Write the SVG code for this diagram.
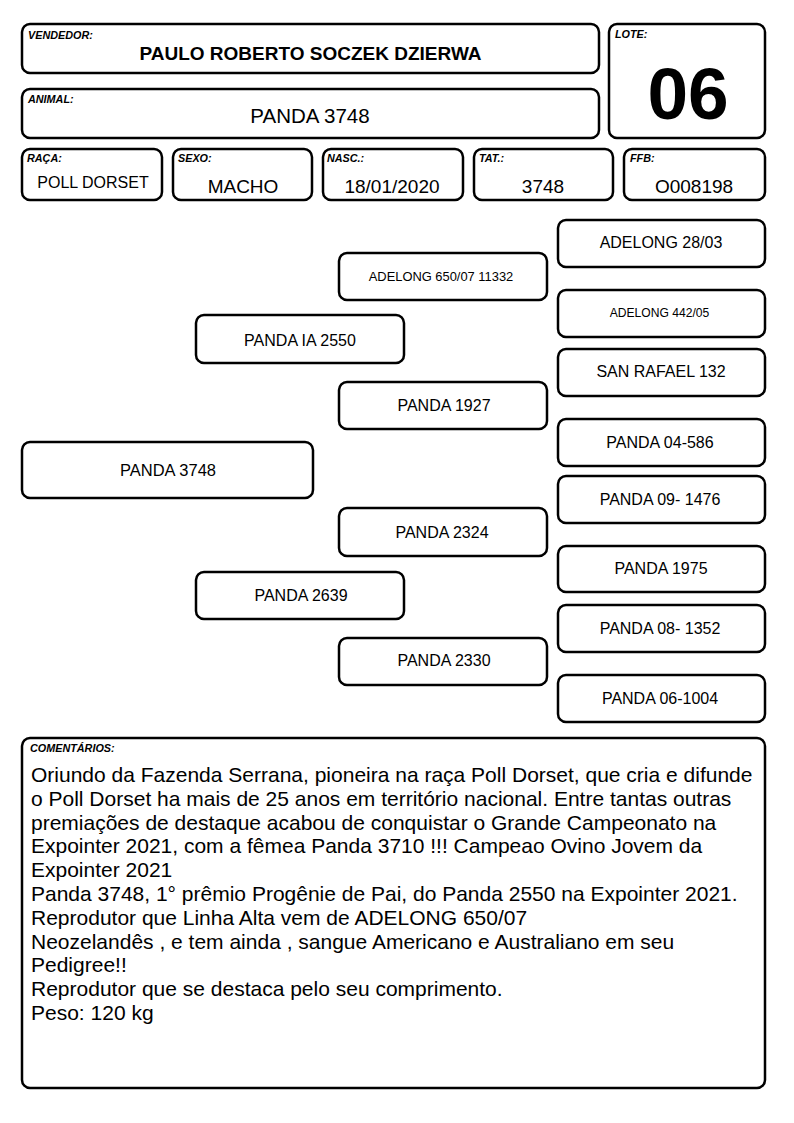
<svg xmlns="http://www.w3.org/2000/svg" width="794" height="1123" viewBox="0 0 794 1123">
<style>
rect.b{fill:#fff;stroke:#000;stroke-width:2.5}
text{font-family:"Liberation Sans",Arial,sans-serif;fill:#000}
.lbl{font-size:10.8px;font-weight:bold;font-style:italic}
.val{font-size:19px;text-anchor:middle}
.ped{font-size:16px;text-anchor:middle}
.com{font-size:21px}
</style>
<rect width="794" height="1123" fill="#fff"/>
<g id="vendedor">
<rect class="b" x="22" y="24" width="577" height="49" rx="8"/>
<text class="lbl" x="28" y="39">VENDEDOR:</text>
<text x="310.5" y="60" style="font-size:19px;font-weight:bold" text-anchor="middle">PAULO ROBERTO SOCZEK DZIERWA</text>
</g>
<g id="animal">
<rect class="b" x="22" y="89" width="577" height="49" rx="8"/>
<text class="lbl" x="28" y="103">ANIMAL:</text>
<text x="310" y="123" style="font-size:20.5px" text-anchor="middle">PANDA 3748</text>
</g>
<g id="lote">
<rect class="b" x="609" y="24" width="156" height="114" rx="8"/>
<text class="lbl" x="615" y="38">LOTE:</text>
<text x="688" y="119" style="font-size:73px;font-weight:bold" text-anchor="middle">06</text>
</g>
<g id="raca">
<rect class="b" x="22" y="149" width="140" height="51" rx="8"/>
<text class="lbl" x="27" y="162">RAÇA:</text>
<text class="val" x="93" y="188" style="font-size:16px">POLL DORSET</text>
</g>
<g id="sexo">
<rect class="b" x="173" y="149" width="139" height="51" rx="8"/>
<text class="lbl" x="178" y="162">SEXO:</text>
<text class="val" x="243" y="193">MACHO</text>
</g>
<g id="nasc">
<rect class="b" x="323" y="149" width="140" height="51" rx="8"/>
<text class="lbl" x="327" y="162">NASC.:</text>
<text class="val" x="392" y="193">18/01/2020</text>
</g>
<g id="tat">
<rect class="b" x="474" y="149" width="139" height="51" rx="8"/>
<text class="lbl" x="479" y="162">TAT.:</text>
<text class="val" x="543" y="193">3748</text>
</g>
<g id="ffb">
<rect class="b" x="624" y="149" width="141" height="51" rx="8"/>
<text class="lbl" x="630" y="162">FFB:</text>
<text class="val" x="694" y="193">O008198</text>
</g>
<g id="connectors"></g>
<g id="p0">
<rect class="b" x="22" y="442" width="291" height="56" rx="8"/>
<text class="ped" x="168" y="475.5" style="font-size:16.5px">PANDA 3748</text>
</g>
<g id="p1a">
<rect class="b" x="196" y="315" width="208" height="48" rx="8"/>
<text class="ped" x="300" y="345.5">PANDA IA 2550</text>
</g>
<g id="p1b">
<rect class="b" x="196" y="572" width="208" height="47" rx="8"/>
<text class="ped" x="301" y="600.5">PANDA 2639</text>
</g>
<g id="p2a">
<rect class="b" x="339" y="253" width="208" height="47" rx="8"/>
<text class="ped" x="441" y="280.5" style="font-size:12.9px">ADELONG 650/07 11332</text>
</g>
<g id="p2b">
<rect class="b" x="339" y="382" width="208" height="47" rx="8"/>
<text class="ped" x="444" y="411">PANDA 1927</text>
</g>
<g id="p2c">
<rect class="b" x="339" y="508" width="208" height="48" rx="8"/>
<text class="ped" x="442" y="538">PANDA 2324</text>
</g>
<g id="p2d">
<rect class="b" x="339" y="638" width="208" height="47" rx="8"/>
<text class="ped" x="444" y="665.5">PANDA 2330</text>
</g>
<g id="p3a">
<rect class="b" x="558" y="220" width="207" height="47" rx="8"/>
<text class="ped" x="661" y="248">ADELONG 28/03</text>
</g>
<g id="p3b">
<rect class="b" x="558" y="290" width="207" height="47" rx="8"/>
<text class="ped" x="659.5" y="316.5" style="font-size:12.1px">ADELONG 442/05</text>
</g>
<g id="p3c">
<rect class="b" x="558" y="349" width="207" height="47" rx="8"/>
<text class="ped" x="661" y="377">SAN RAFAEL 132</text>
</g>
<g id="p3d">
<rect class="b" x="558" y="419" width="207" height="47" rx="8"/>
<text class="ped" x="660" y="447.5">PANDA 04-586</text>
</g>
<g id="p3e">
<rect class="b" x="558" y="476" width="207" height="47" rx="8"/>
<text class="ped" x="660" y="505">PANDA 09- 1476</text>
</g>
<g id="p3f">
<rect class="b" x="558" y="546" width="207" height="46" rx="8"/>
<text class="ped" x="661" y="574">PANDA 1975</text>
</g>
<g id="p3g">
<rect class="b" x="558" y="605" width="207" height="47" rx="8"/>
<text class="ped" x="660" y="633.5">PANDA 08- 1352</text>
</g>
<g id="p3h">
<rect class="b" x="558" y="675" width="207" height="47" rx="8"/>
<text class="ped" x="660" y="704">PANDA 06-1004</text>
</g>
<g id="comentarios">
<rect class="b" x="22" y="738" width="743" height="350" rx="8"/>
<text class="lbl" x="30" y="752">COMENTÁRIOS:</text>
<text class="com" x="31" y="782">Oriundo da Fazenda Serrana, pioneira na raça Poll Dorset, que cria e difunde</text>
<text class="com" x="31" y="805.8">o Poll Dorset ha mais de 25 anos em território nacional. Entre tantas outras</text>
<text class="com" x="31" y="829.6">premiações de destaque acabou de conquistar o Grande Campeonato na</text>
<text class="com" x="31" y="853.4">Expointer 2021, com a fêmea Panda 3710 !!! Campeao Ovino Jovem da</text>
<text class="com" x="31" y="877.2">Expointer 2021</text>
<text class="com" x="31" y="901">Panda 3748, 1° prêmio Progênie de Pai, do Panda 2550 na Expointer 2021.</text>
<text class="com" x="31" y="924.8">Reprodutor que Linha Alta vem de ADELONG 650/07</text>
<text class="com" x="31" y="948.6">Neozelandês , e tem ainda , sangue Americano e Australiano em seu</text>
<text class="com" x="31" y="972.4">Pedigree!!</text>
<text class="com" x="31" y="996.2">Reprodutor que se destaca pelo seu comprimento.</text>
<text class="com" x="31" y="1020">Peso: 120 kg</text>
</g>
</svg>
